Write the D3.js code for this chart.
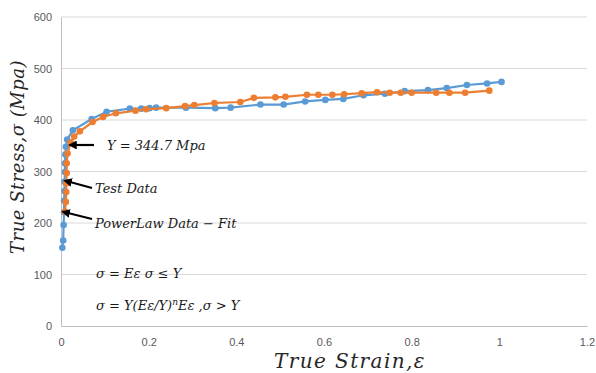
<!DOCTYPE html>
<html><head><meta charset="utf-8">
<script src="https://cdn.jsdelivr.net/npm/d3@7"></script>
<style>body{margin:0;background:#fff}svg{display:block}</style>
</head><body>
<script>
const testStrain = [0.003,0.005,0.006,0.007,0.007,0.008,0.008,0.009,0.009,0.010,0.011,0.014,0.027,0.070,0.104,0.157,0.183,0.202,0.217,0.285,0.352,0.387,0.455,0.508,0.557,0.603,0.644,0.690,0.739,0.784,0.837,0.880,0.926,0.972,1.005];
const testStress = [152,166,196,221,243,262,280,299,316,333,348,362,380,402,416,422,422,423,424,424,423,424,430,430,436,439,441,448,451,456,458,462,468,471,474];
const fitStrain = [0.009,0.011,0.012,0.012,0.013,0.013,0.015,0.022,0.030,0.043,0.072,0.096,0.125,0.170,0.194,0.240,0.283,0.304,0.350,0.409,0.440,0.489,0.512,0.561,0.587,0.619,0.646,0.686,0.721,0.750,0.775,0.800,0.856,0.886,0.922,0.977];
const fitStress = [222,241,260,277,297,316,335,356,368,378,396,406,413,418,421,423,427,429,433,435,443,444,445,449,449,449,450,452,454,453,453,453,453,453,453,457];
const xTicks = [0,0.2,0.4,0.6,0.8,1,1.2];
const yTicks = [0,100,200,300,400,500,600];

const W=596,H=373;
const svg=d3.select("body").append("svg").attr("width",W).attr("height",H);
const x=d3.scaleLinear().domain([0,1.2]).range([61,587]);
const y=d3.scaleLinear().domain([0,600]).range([326,17]);

// gridlines
svg.append("g").selectAll("line").data(yTicks.slice(1)).join("line")
  .attr("x1",x(0)).attr("x2",x(1.2)).attr("y1",d=>y(d)).attr("y2",d=>y(d))
  .attr("stroke","#d9d9d9").attr("stroke-width",1);

const axFont="'Liberation Sans', Arial, sans-serif";
const xAxis=svg.append("g").attr("transform",`translate(0,${y(0)})`)
  .call(d3.axisBottom(x).tickValues(xTicks).tickFormat(d=>d3.format("")(d)).tickSize(0).tickPadding(12));
const yAxis=svg.append("g").attr("transform",`translate(${x(0)},0)`)
  .call(d3.axisLeft(y).tickValues(yTicks).tickSize(0).tickPadding(9));
[xAxis,yAxis].forEach(a=>{
  a.select(".domain").attr("stroke","#bfbfbf").attr("stroke-width",1);
  a.selectAll("text").attr("fill","#595959").style("font-family",axFont).style("font-size","11px");
});

const line=d3.line().x(d=>x(d[0])).y(d=>y(d[1]));
function series(xs,ys,color){
  const pts=xs.map((v,i)=>[v,ys[i]]);
  svg.append("path").datum(pts).attr("d",line).attr("fill","none").attr("stroke",color).attr("stroke-width",2.2);
  svg.append("g").selectAll("circle").data(pts).join("circle")
    .attr("cx",d=>x(d[0])).attr("cy",d=>y(d[1])).attr("r",3.3).attr("fill",color);
}
series(testStrain,testStress,"#5b9bd5");
series(fitStrain,fitStress,"#ed7d31");

// arrows
const defs=svg.append("defs");
defs.append("marker").attr("id","ah").attr("viewBox","0 0 10 10").attr("refX",2).attr("refY",5)
  .attr("markerWidth",4).attr("markerHeight",4).attr("orient","auto-start-reverse")
  .append("path").attr("d","M0,0 L10,5 L0,10 z").attr("fill","#000");
function arrow(x1,y1,x2,y2){
  svg.append("line").attr("x1",x1).attr("y1",y1).attr("x2",x2).attr("y2",y2)
    .attr("stroke","#000").attr("stroke-width",2.2).attr("marker-end","url(#ah)");
}
arrow(94,145,75,145);
arrow(92,188,70,182);
arrow(92,219,68,213);

const mFont="'DejaVu Serif', 'Liberation Serif', serif";
function txt(tx,ty,s,size){
  return svg.append("text").attr("x",tx).attr("y",ty).style("font-family",mFont)
    .style("font-style","italic").style("font-size",size+"px").attr("fill","#1a1a1a").text(s);
}
txt(107,150,"Y = 344.7 Mpa",13);
txt(95,193,"Test Data",13);
txt(95,228,"PowerLaw Data \u2212  Fit",13);
txt(96,278,"\u03c3 = E\u03b5  \u03c3 \u2264 Y",13);
const eq=svg.append("text").attr("x",96).attr("y",310).style("font-family",mFont)
  .style("font-style","italic").style("font-size","13px").attr("fill","#1a1a1a");
eq.append("tspan").text("\u03c3 = Y(E\u03b5/Y)");
eq.append("tspan").attr("dy",-5).style("font-size","9px").text("n");
eq.append("tspan").attr("dy",5).text("E\u03b5  ,\u03c3 > Y");

// axis titles
svg.append("text").attr("x",350).attr("y",368).attr("text-anchor","middle")
  .style("font-family",mFont).style("font-style","italic").style("font-size","20px")
  .style("letter-spacing","1.4px").attr("fill","#262626")
  .text("True Strain,\u03b5");
svg.append("text").attr("transform","translate(24,157) rotate(-90)").attr("text-anchor","middle")
  .style("font-family",mFont).style("font-style","italic").style("font-size","18px")
  .style("letter-spacing","0.5px").attr("fill","#262626")
  .text("True Stress,\u03c3 (Mpa)");
</script>
</body></html>
